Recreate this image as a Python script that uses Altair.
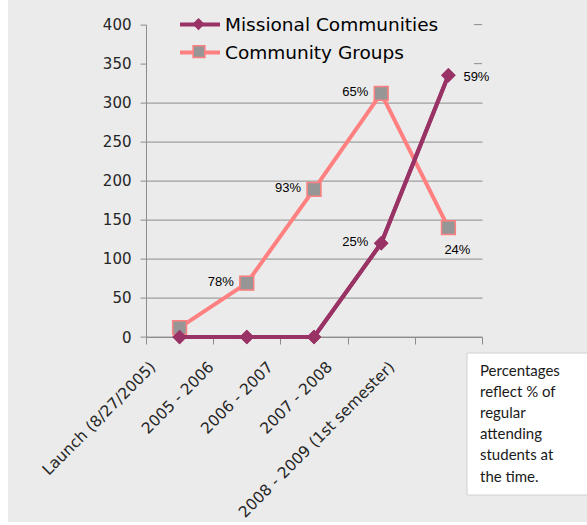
import altair as alt
import pandas as pd

periods = ["Launch (8/27/2005)", "2005 - 2006", "2006 - 2007", "2007 - 2008",
           "2008 - 2009 (1st semester)"]
series_names = ["Missional Communities", "Community Groups"]
community = [12, 69, 189, 312, 140]
missional = [0, 0, 0, 120, 335]
community_labels = ["", "78%", "93%", "65%", "24%"]
missional_labels = ["", "", "", "25%", "59%"]
community_label_side = ["", "left", "left", "left", "below"]
missional_label_side = ["", "", "", "left", "right"]
y_ticks = [0, 50, 100, 150, 200, 250, 300, 350, 400]
covered_ticks = [350, 400]
note_lines = ["Percentages", "reflect % of", "regular", "attending", "students at", "the time."]

MC = "#993366"
CG = "#ff8080"
SQ = "#969696"
GRID = "#8c8c8c"
BG = "#ebebeb"
AX_TXT = "#262626"

rows = []
for name, vals, labs, sides in [
    (series_names[1], community, community_labels, community_label_side),
    (series_names[0], missional, missional_labels, missional_label_side),
]:
    for p, v, l, s in zip(periods, vals, labs, sides):
        rows.append({"period": p, "series": name, "marker": name, "marker_fill": name,
                     "value": v, "label": l, "side": s})
df = pd.DataFrame(rows)

offsets = [-27, -36, -44, -52, -57]
label_offset = {
    "condition": [{"test": f"datum.value === '{p}'", "value": o}
                  for p, o in zip(periods[1:], offsets[1:])],
    "value": offsets[0],
}

X = alt.X("period:N", sort=periods,
          scale=alt.Scale(type="band", paddingInner=0, paddingOuter=0),
          axis=alt.Axis(title=None, labelAngle=315, labelAlign="right",
                        labelBaseline="middle", labelFont="DejaVu Sans",
                        labelFontSize=15.5, labelColor=AX_TXT, labelPadding=20,
                        labelLimit=400, labelOverlap=False, tickBand="extent",
                        tickSize=7, tickColor=GRID, domainColor=GRID, grid=False,
                        labelOffset=label_offset))
Y = alt.Y("value:Q", scale=alt.Scale(domain=[0, 400], nice=False),
          axis=alt.Axis(title=None, values=y_ticks, labelFont="DejaVu Sans",
                        labelFontSize=15, labelColor=AX_TXT, labelPadding=9,
                        labelOverlap=False, tickSize=6, tickColor=GRID,
                        domainColor=GRID, gridColor=GRID,
                        gridOpacity={"condition": {"test": "datum.value >= 350", "value": 0},
                                     "value": 1}))

legA = alt.Legend(orient="none", legendX=44, legendY=-10, title=None,
                  symbolType="M-2.5,0H2.5", symbolSize=256, symbolStrokeWidth=4,
                  labelFont="DejaVu Sans", labelFontSize=18.5, labelColor="#000000",
                  labelLimit=400, labelOffset=15, rowPadding=8, padding=0)
legB1 = alt.Legend(orient="none", legendX=46, legendY=-7, title=None,
                   values=[series_names[0]], labelExpr="''",
                   symbolType="diamond", symbolSize=150, symbolOpacity=1,
                   symbolFillColor=MC, symbolStrokeWidth=0, padding=0)
legB2 = alt.Legend(orient="none", legendX=46, legendY=20, title=None,
                   values=[series_names[1]], labelExpr="''",
                   symbolType="square", symbolSize=140, symbolOpacity=1,
                   symbolStrokeColor=CG, symbolStrokeWidth=1.5, padding=0)

lines = alt.Chart(df).mark_line(strokeWidth=4).encode(
    x=X, y=Y,
    stroke=alt.Stroke("series:N", scale=alt.Scale(domain=series_names, range=[MC, CG]),
                      legend=legA),
)

points = alt.Chart(df).mark_point(
    filled=True, size=210, opacity=1, strokeWidth=0
).encode(
    x=X, y=Y,
    shape=alt.Shape("marker:N", sort=series_names,
                    scale=alt.Scale(range=["diamond", "square"]), legend=legB1),
    fill=alt.Fill("marker_fill:N", sort=series_names,
                  scale=alt.Scale(range=[MC, SQ]), legend=legB2),
)

cg_df = df[df["series"] == series_names[1]]
mc_df = df[df["series"] == series_names[0]]

squares = alt.Chart(cg_df).mark_point(
    shape="square", filled=True, fill=SQ, stroke=CG, strokeWidth=1.5, size=190, opacity=1
).encode(x=X, y=Y)
mc_line = alt.Chart(mc_df).mark_line(strokeWidth=4, color=MC).encode(x=X, y=Y)
diamonds = alt.Chart(mc_df).mark_point(
    shape="diamond", filled=True, fill=MC, strokeWidth=0, size=210, opacity=1
).encode(x=X, y=Y)

def label_layer(side, **kw):
    return alt.Chart(df).transform_filter(f"datum.side === '{side}'").mark_text(
        font="Liberation Sans", fontSize=13, color="#000000", **kw
    ).encode(x=X, y=Y, text="label:N")

lab_left = label_layer("left", align="right", baseline="middle", dx=-13, dy=-1)
lab_right = label_layer("right", align="left", baseline="middle", dx=15, dy=2)
lab_below = label_layer("below", align="center", baseline="middle", dx=9, dy=22)

dashes = alt.Chart(pd.DataFrame({"value": covered_ticks})).mark_rule(
    color=GRID, strokeWidth=1
).encode(y=Y, x=alt.value(328), x2=alt.value(336))

one = pd.DataFrame({"a": [0]})
strip_left = alt.Chart(one).mark_rect(color="white").encode(
    x=alt.value(-146), x2=alt.value(-138), y=alt.value(-30), y2=alt.value(510))
strip_bottom = alt.Chart(one).mark_rect(color="white").encode(
    x=alt.value(-146), x2=alt.value(460), y=alt.value(497.4), y2=alt.value(510))
note_box = alt.Chart(one).mark_rect(fill="white", stroke="#d0d0d0", strokeWidth=1).encode(
    x=alt.value(321), x2=alt.value(460), y=alt.value(328.4), y2=alt.value(470.4))
note_text = alt.Chart(one).mark_text(
    align="left", baseline="top", font="Lato", fontSize=15, lineHeight=21.2,
    color="#1a1a1a"
).encode(x=alt.value(334), y=alt.value(339), text=alt.value(note_lines))

chart = alt.layer(
    lines, points, squares, mc_line, diamonds,
    lab_left, lab_right, lab_below, dashes,
    strip_left, strip_bottom, note_box, note_text
).properties(
    width=336, height=312.4,
    autosize="none",
    padding={"left": 146, "top": 24.6, "right": 105, "bottom": 188},
    background=BG,
).configure_view(stroke=None)

chart.save("out.html", embed_options={"renderer": "svg", "actions": False})
